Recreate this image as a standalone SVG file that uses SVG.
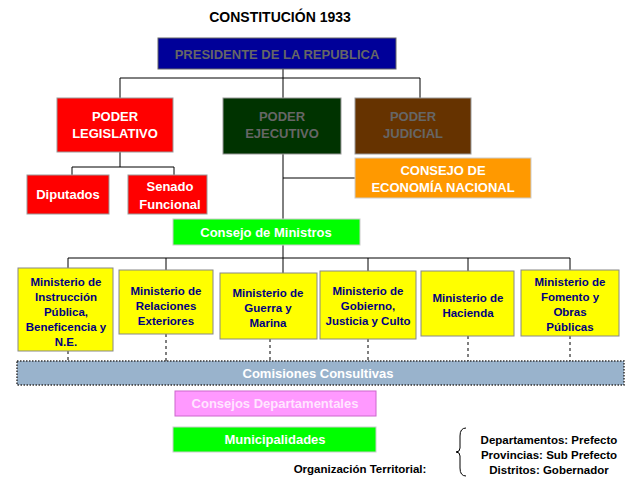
<svg xmlns="http://www.w3.org/2000/svg" width="640" height="480" viewBox="0 0 640 480">
<style>
text{font-family:"Liberation Sans",Arial,sans-serif;font-weight:bold;text-anchor:middle}
.w{fill:#fff;font-size:13px}
.g{fill:#666;font-size:13px}
.m{fill:#000080;font-size:11.5px}
.yb{fill:#ffff00;stroke:#888;stroke-width:1}
.c line,.c path{stroke:#000;stroke-width:1;fill:none}
.d{stroke-dasharray:3,3}
</style>
<rect width="640" height="480" fill="#fff"/>
<text x="280" y="22" font-size="14" fill="#000">CONSTITUCIÓN 1933</text>
<g class="c">
<path d="M283 62V258M120 78H420M120 78V98M420 78V98M283 178H355M120 152V167M72 167H174M72 167V175M174 167V175"/>
<path d="M68 258H570M68 258V268M166 258V270M283 258V273M368 258V271M468 258V271M570 258V270"/>
<path class="d" d="M68 351V361M166 334V361M270 339V361M368 339V361M468 336V361M570 336V361"/>
</g>
<g id="presidente"><rect x="158" y="38" width="238" height="31" fill="#000099" stroke="#666"/><text class="g" x="277" y="59">PRESIDENTE DE LA REPUBLICA</text></g>
<g id="legislativo"><rect x="57" y="98" width="116" height="54" fill="#ff0000" stroke="#999"/><text class="w" x="115" y="121">PODER</text><text class="w" x="115" y="138">LEGISLATIVO</text></g>
<g id="ejecutivo"><rect x="223" y="98" width="118" height="56" fill="#003300" stroke="#999"/><text class="g" x="282" y="121">PODER</text><text class="g" x="282" y="138">EJECUTIVO</text></g>
<g id="judicial"><rect x="355" y="98" width="116" height="56" fill="#663300" stroke="#999"/><text class="g" x="413" y="121">PODER</text><text class="g" x="413" y="138">JUDICIAL</text></g>
<g id="diputados"><rect x="27" y="175" width="82" height="39" fill="#ff0000" stroke="#999"/><text class="w" x="68" y="199">Diputados</text></g>
<g id="senado"><rect x="128" y="175" width="79" height="39" fill="#ff0000" stroke="#999"/><text class="w" x="170" y="191">Senado</text><text class="w" x="170" y="209">Funcional</text></g>
<g id="economia"><rect x="355" y="158" width="176" height="40" fill="#ff9900" stroke="#ccc"/><text class="w" x="443" y="175">CONSEJO DE</text><text class="w" x="443" y="192">ECONOMÍA NACIONAL</text></g>
<g id="ministros"><rect x="173" y="219" width="187" height="26" fill="#00ff00" stroke="#ccc"/><text class="w" x="266" y="237">Consejo de Ministros</text></g>
<g id="m1"><rect class="yb" x="18" y="268" width="95" height="83"/><text class="m" x="66" y="286">Ministerio de</text><text class="m" x="66" y="301">Instrucción</text><text class="m" x="66" y="316">Pública,</text><text class="m" x="66" y="331">Beneficencia y</text><text class="m" x="66" y="346">N.E.</text></g>
<g id="m2"><rect class="yb" x="119" y="270" width="94" height="64"/><text class="m" x="166" y="295">Ministerio de</text><text class="m" x="166" y="310">Relaciones</text><text class="m" x="166" y="325">Exteriores</text></g>
<g id="m3"><rect class="yb" x="220" y="273" width="97" height="66"/><text class="m" x="268" y="297">Ministerio de</text><text class="m" x="268" y="312">Guerra y</text><text class="m" x="268" y="327">Marina</text></g>
<g id="m4"><rect class="yb" x="320" y="271" width="96" height="68"/><text class="m" x="368" y="295">Ministerio de</text><text class="m" x="368" y="310">Gobierno,</text><text class="m" x="368" y="325">Justicia y Culto</text></g>
<g id="m5"><rect class="yb" x="421" y="271" width="93" height="65"/><text class="m" x="468" y="302">Ministerio de</text><text class="m" x="468" y="317">Hacienda</text></g>
<g id="m6"><rect class="yb" x="521" y="270" width="98" height="66"/><text class="m" x="570" y="286">Ministerio de</text><text class="m" x="570" y="301">Fomento y</text><text class="m" x="570" y="316">Obras</text><text class="m" x="570" y="331">Públicas</text></g>
<g id="comisiones"><rect x="17" y="361" width="607" height="24" fill="#99b3cc" stroke="#333" stroke-width="1.5" stroke-dasharray="1.5,1.5"/><text class="w" x="318" y="378">Comisiones  Consultivas</text></g>
<g id="consejos"><rect x="175" y="391" width="201" height="25" fill="#ff99ff" stroke="#cc66cc"/><text class="w" x="275" y="408" fill="#ffe6ff" style="fill:#ffe6ff">Consejos Departamentales</text></g>
<g id="municipalidades"><rect x="173" y="427" width="203" height="25" fill="#00ff00" stroke="#ccc"/><text class="w" x="275" y="444">Municipalidades</text></g>
<text x="360" y="473" font-size="11.5" fill="#000">Organización Territorial:</text>
<path d="M466 428Q460 428 460 436V448Q460 452 456 452Q460 452 460 456V468Q460 476 466 476" fill="none" stroke="#000"/>
<g font-size="11.5" fill="#000"><text x="549" y="444">Departamentos: Prefecto</text><text x="549" y="459">Provincias: Sub Prefecto</text><text x="549" y="474">Distritos: Gobernador</text></g>
</svg>
